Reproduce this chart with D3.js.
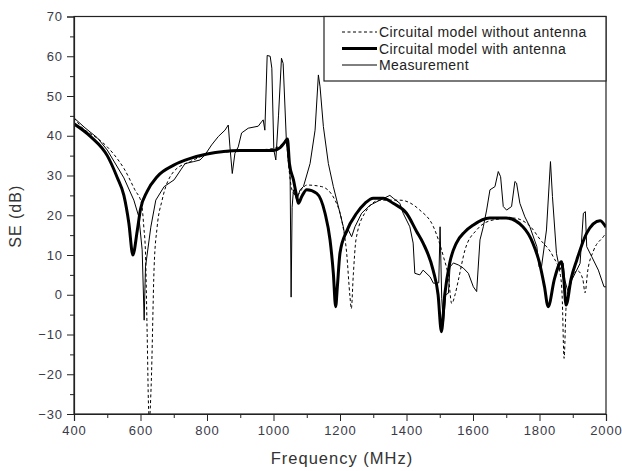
<!DOCTYPE html>
<html>
<head>
<meta charset="utf-8">
<script src="https://cdn.jsdelivr.net/npm/d3@7"></script>
<style>
  body { margin: 0; background: #fff; }
  text { font-family: "Liberation Sans", Arial, sans-serif; }
</style>
</head>
<body>
<div id="chart"></div>
<script>
// frequency (MHz) / SE (dB) pairs
var freqNoAnt = [400, 433, 450, 500, 533, 550, 583, 603, 610, 615, 620, 625, 627, 632, 641, 650, 665, 700, 750, 814, 874, 950, 1000, 1020, 1038, 1044, 1050, 1060, 1070, 1085, 1100, 1145, 1185, 1205, 1220, 1230, 1234, 1240, 1248, 1275, 1320, 1380, 1440, 1481, 1511, 1526, 1536, 1546, 1556, 1576, 1611, 1660, 1720, 1771, 1801, 1841, 1862, 1868, 1874, 1880, 1895, 1915, 1930, 1937, 1945, 1962, 1992, 2000];
var seNoAnt   = [44.5, 41.4, 40.5, 37.2, 33.9, 31.8, 26.4, 23, 17, 10.5, -9.6, -30, -31, -23, 7, 17, 23.8, 31, 33.5, 35.6, 36, 36.4, 36.8, 37.5, 38.8, 34, 29, 25.5, 25, 26.5, 27.6, 27.2, 23.8, 18.8, 10.5, -0.5, -3.5, 5, 13.8, 20.6, 23.8, 23.8, 21.3, 17.1, 9.6, 4.5, -2.2, 0, 3.7, 11.3, 16.3, 18.8, 19.3, 17.3, 14, 9.6, 5.3, 0, -16, -3, 4, 6, 4, 0.5, 6, 11, 14.6, 15.5];

var freqAnt = [400, 450, 500, 530, 550, 565, 577, 590, 600, 620, 650, 700, 750, 800, 900, 1000, 1020, 1035, 1042, 1048, 1060, 1070, 1075, 1085, 1100, 1130, 1155, 1170, 1180, 1187, 1192, 1200, 1220, 1250, 1275, 1300, 1330, 1360, 1400, 1430, 1450, 1480, 1495, 1505, 1515, 1530, 1550, 1575, 1600, 1650, 1700, 1750, 1780, 1800, 1815, 1826, 1845, 1866, 1873, 1880, 1895, 1912, 1942, 1982, 2000];
var seAnt   = [43, 39.8, 35, 29.5, 25, 18, 10, 16, 21.5, 26, 29.7, 32.6, 34.3, 35.4, 36.3, 36.3, 37, 38.5, 39.2, 33, 28.9, 24.7, 23, 24.7, 26.4, 25.5, 20.5, 13.8, 5.4, -3, 2, 10.5, 16, 20.5, 23, 24.3, 24.3, 23, 20.5, 16, 13, 6.2, 0, -9.3, 0, 8, 13, 15.8, 17.5, 19.3, 19.3, 17.1, 13, 8, 2, -3, 4, 8.3, 4, -2.6, 4, 8.7, 15.5, 18.6, 17];

var freqMeas = [400, 433, 470, 500, 550, 580, 595, 605, 611, 615, 631, 646, 671, 701, 721, 734, 760, 779, 794, 814, 834, 854, 864, 869, 876, 884, 894, 904, 924, 954, 964, 969, 974, 981, 990, 995, 1001, 1007, 1015, 1024, 1029, 1039, 1050, 1053, 1056, 1060, 1070, 1080, 1090, 1110, 1125, 1135, 1140, 1150, 1165, 1180, 1200, 1210, 1215, 1225, 1235, 1245, 1265, 1290, 1320, 1350, 1360, 1380, 1390, 1410, 1420, 1425, 1440, 1450, 1471, 1481, 1497, 1501, 1506, 1511, 1518, 1526, 1531, 1541, 1556, 1571, 1586, 1601, 1611, 1621, 1631, 1641, 1651, 1666, 1676, 1683, 1691, 1701, 1716, 1726, 1731, 1741, 1756, 1771, 1792, 1799, 1806, 1821, 1833, 1839, 1851, 1861, 1871, 1876, 1887, 1897, 1912, 1922, 1932, 1938, 1942, 1957, 1977, 1994, 2000];
var seMeas   = [44.5, 42, 39.5, 36.4, 29.4, 23.8, 19.6, 11.3, -6.4, 7, 17, 23.8, 27.2, 28.9, 31.4, 33, 33.5, 33.9, 35.2, 37.7, 39.8, 41.4, 42.7, 37.2, 30.5, 35.6, 37.2, 40.7, 41.9, 42.4, 43.5, 44, 41.4, 60.2, 60, 57, 36.4, 33.9, 45, 59.5, 58.2, 38.2, 29.7, -0.6, 22, 26.4, 23.8, 26.4, 27.2, 33, 41.4, 55.3, 52.3, 42.3, 33, 27.2, 20.5, 17.1, 14.6, 16.3, 14.6, 17.1, 20.5, 22.5, 23.8, 25, 24.3, 23, 20.5, 17.1, 13, 5.4, 5, 6.2, 4.5, 2.9, 3, 17.1, -1, -7.2, 0, 0.4, 7, 8, 7.5, 6.7, 5.4, 2, 0.8, 13.8, 17.1, 21.3, 26.4, 27.2, 31, 29.7, 22.2, 21.3, 22.2, 28.5, 28.1, 23, 19.6, 17.1, 12.1, 7, 7, 16.3, 33.5, 24.7, 10.4, 6.2, 7.9, 3.7, 0.4, 3.7, 6.2, 7.9, 20.5, 20.9, 12.1, 9.6, 6.2, 2, 2];

var xTicks = [400, 600, 800, 1000, 1200, 1400, 1600, 1800, 2000];
var yTicks = [-30, -20, -10, 0, 10, 20, 30, 40, 50, 60, 70];
var legendNames = ['Circuital model without antenna', 'Circuital model with antenna', 'Measurement'];

var width = 622, height = 471;
var plotL = 74, plotR = 606, plotT = 16.5, plotB = 414;

var svg = d3.select('#chart').append('svg')
            .attr('width', width)
            .attr('height', height);

var x = d3.scaleLinear().domain([400, 2000]).range([plotL, plotR]);
var y = d3.scaleLinear().domain([-30, 70]).range([plotB, plotT]);

svg.append('clipPath').attr('id', 'plot')
   .append('rect')
   .attr('x', plotL).attr('y', plotT)
   .attr('width', plotR - plotL).attr('height', plotB - plotT);

function pairs(fs, vs){
    return fs.map(function(f, i){ return [f, vs[i]]; });
}

function makeLine(curve){
    return d3.line()
             .x(function(d){ return x(d[0]); })
             .y(function(d){ return y(d[1]); })
             .curve(curve);
}

// model curves are smooth, measurement is raw
var series = [
    {data: pairs(freqNoAnt, seNoAnt), w: 1, dash: '3,2.5', curve: d3.curveMonotoneX},
    {data: pairs(freqAnt, seAnt), w: 3, dash: null, curve: d3.curveMonotoneX},
    {data: pairs(freqMeas, seMeas), w: 1, dash: null, curve: d3.curveLinear}
];

var g = svg.append('g').attr('clip-path', 'url(#plot)');
g.selectAll('path.series')
 .data(series)
 .enter()
 .append('path')
 .attr('class', 'series')
 .attr('d', function(d){ return makeLine(d.curve)(d.data); })
 .attr('fill', 'none')
 .attr('stroke', '#000')
 .attr('stroke-width', function(d){ return d.w; })
 .attr('stroke-dasharray', function(d){ return d.dash; });

// frame
svg.append('rect')
   .attr('x', plotL).attr('y', plotT)
   .attr('width', plotR - plotL).attr('height', plotB - plotT)
   .attr('fill', 'none')
   .attr('stroke', '#222')
   .attr('stroke-width', 1.2);

// minor ticks
var xMinor = d3.range(500, 2000, 200);
var yMinor = d3.range(-25, 70, 10);

svg.append('g')
   .attr('transform', 'translate(0,' + plotB + ')')
   .call(d3.axisBottom(x).tickValues(xTicks).tickSize(7).tickPadding(5).tickFormat(d3.format('d')));
svg.append('g')
   .attr('transform', 'translate(' + plotL + ',0)')
   .call(d3.axisLeft(y).tickValues(yTicks).tickSize(7).tickPadding(4));

svg.append('g')
   .attr('transform', 'translate(0,' + plotB + ')')
   .call(d3.axisBottom(x).tickValues(xMinor).tickSize(4).tickFormat(''))
   .select('.domain').remove();
svg.append('g')
   .attr('transform', 'translate(' + plotL + ',0)')
   .call(d3.axisLeft(y).tickValues(yMinor).tickSize(4).tickFormat(''))
   .select('.domain').remove();

svg.selectAll('.domain').attr('stroke', '#222').attr('stroke-width', 1.2);
svg.selectAll('.tick line').attr('stroke', '#222');
svg.selectAll('.tick text')
   .attr('fill', '#3a3a48')
   .style('font-size', '13px')
   .style('letter-spacing', '0.9px')
   .style('font-family', '"Liberation Sans", Arial, sans-serif');

svg.append('text')
   .attr('x', (plotL + plotR) / 2 + 2)
   .attr('y', 464)
   .attr('text-anchor', 'middle')
   .attr('fill', '#333')
   .style('font-size', '16.5px')
   .style('letter-spacing', '1px')
   .text('Frequency (MHz)');

svg.append('text')
   .attr('transform', 'translate(21,' + ((plotT + plotB) / 2 + 1) + ') rotate(-90)')
   .attr('text-anchor', 'middle')
   .attr('fill', '#333')
   .style('font-size', '16px')
   .style('letter-spacing', '1px')
   .text('SE (dB)');

// legend
var lg = svg.append('g');
lg.append('rect')
  .attr('x', 324).attr('y', plotT)
  .attr('width', plotR - 324).attr('height', 81 - plotT)
  .attr('fill', '#fff')
  .attr('stroke', '#222')
  .attr('stroke-width', 1.2);

var items = lg.selectAll('g.item')
              .data(legendNames)
              .enter()
              .append('g')
              .attr('class', 'item')
              .attr('transform', function(d, i){ return 'translate(0,' + (32 + i * 16.5) + ')'; });

items.append('line')
     .attr('x1', 342).attr('x2', 377)
     .attr('y1', 0).attr('y2', 0)
     .attr('stroke', '#000')
     .attr('stroke-width', function(d, i){ return series[i].w; })
     .attr('stroke-dasharray', function(d, i){ return series[i].dash; });

items.append('text')
     .attr('x', 379)
     .attr('y', 5)
     .attr('fill', '#222')
     .style('font-size', '14px')
     .style('letter-spacing', '0.4px')
     .text(function(d){ return d; });
</script>
</body>
</html>
